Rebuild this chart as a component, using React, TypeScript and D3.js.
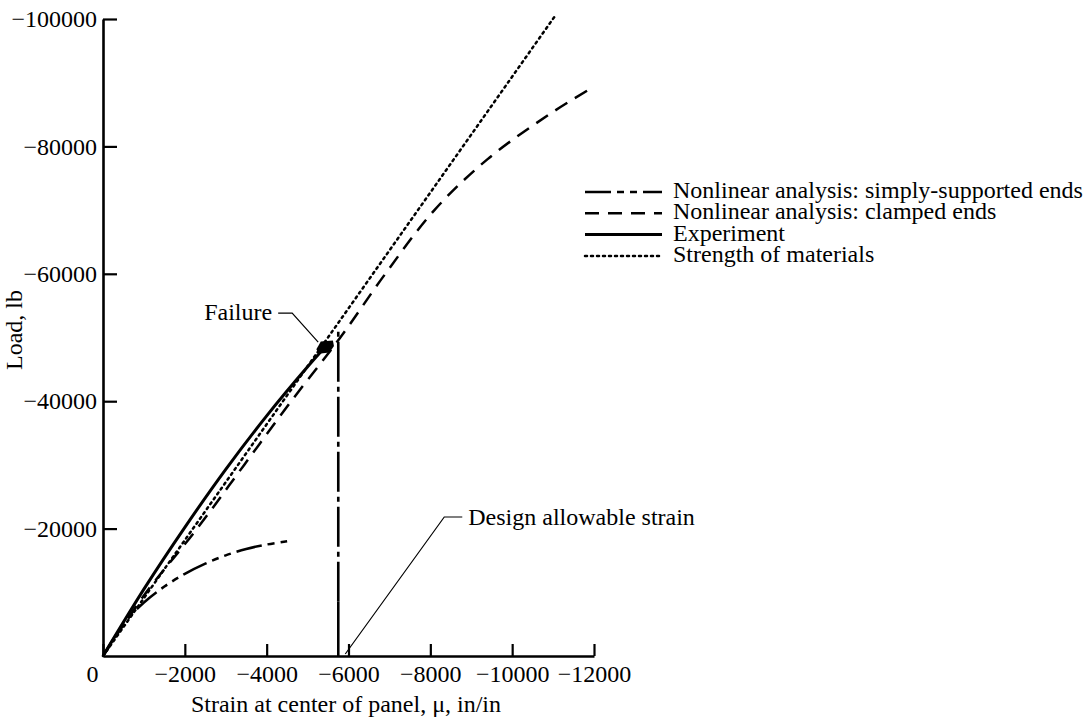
import React, { useEffect, useRef } from 'react'
import * as d3 from 'd3'

// axis ticks
const xTicks = [0, -2000, -4000, -6000, -8000, -10000, -12000]
const yTicks = [-20000, -40000, -60000, -80000, -100000]

// strain (micro in/in) and load (lb)
const ssStrain = [0, -500, -1000, -1500, -2000, -2500, -3000, -3500, -4000, -4500]
const ssLoad = [0, -5000, -8400, -10900, -12900, -14500, -15800, -16800, -17500, -18000]

const clStrain = [0, -1000, -2300, -3450, -4600, -5800, -6900, -8100, -9400, -10900, -11900]
const clLoad = [0, -9500, -20000, -30000, -40000, -50000, -60000, -70000, -78000, -85000, -89000]

const expStrain = [0, -1000, -2000, -3000, -4000, -5000, -5430]
const expLoad = [0, -10500, -20200, -29300, -37700, -45400, -48500]

const somStrain = [0, -11050]
const somLoad = [0, -100500]

const failure = { strain: -5430, load: -48500 }
const allowableStrain = -5750
const allowableTop = -51200
const allowableSolidTop = -8500

const legendLabels = [
  'Nonlinear analysis: simply-supported ends',
  'Nonlinear analysis: clamped ends',
  'Experiment',
  'Strength of materials',
]
const legendDash = ['26,6,7,6,7,6', '14,9', null, '2,4']

const FONT = "'Liberation Serif', 'DejaVu Serif', serif"
const FS = 24

const x = d3.scaleLinear().domain([0, -12000]).range([103, 594])
const y = d3.scaleLinear().domain([0, -100000]).range([656, 19])

const fmt = (d: number) => (d === 0 ? '0' : '\u2212' + Math.abs(d))

const Chart = () => {
  const ref = useRef<SVGSVGElement>(null)

  useEffect(() => {
    const svg = d3.select(ref.current)
    svg.selectAll('*').remove()

    const line = d3
      .line<[number, number]>()
      .x((d) => x(d[0]))
      .y((d) => y(d[1]))
      .curve(d3.curveCatmullRom)

    // y axis
    const ya = svg
      .append('g')
      .attr('transform', `translate(${x(0)},0)`)
      .call(d3.axisLeft(y).tickValues(yTicks).tickSizeInner(-14).tickSizeOuter(0).tickPadding(6).tickFormat(fmt as any))
    // x axis
    const xa = svg
      .append('g')
      .attr('transform', `translate(0,${y(0)})`)
      .call(d3.axisBottom(x).tickValues(xTicks).tickSizeInner(-12).tickSizeOuter(0).tickPadding(14).tickFormat(fmt as any))

    ;[ya, xa].forEach((a) => {
      a.attr('font-family', FONT).attr('font-size', FS)
      a.select('.domain').attr('stroke-width', 2.6)
      a.selectAll('.tick line').attr('stroke-width', 2.2)
      a.selectAll('.tick text').attr('fill', '#000')
    })
    xa.selectAll('.tick text').attr('dy', '0.5em').attr('dx', (d: any) => (d === 0 ? -11 : 0))

    // axis titles
    svg
      .append('text')
      .attr('x', 346)
      .attr('y', 712)
      .attr('text-anchor', 'middle')
      .attr('font-family', FONT)
      .attr('font-size', FS)
      .text('Strain at center of panel, \u03bc, in/in')
    svg
      .append('text')
      .attr('transform', 'translate(22,330) rotate(-90)')
      .attr('text-anchor', 'middle')
      .attr('font-family', FONT)
      .attr('font-size', FS)
      .text('Load, lb')

    // curves
    const curves = [
      { s: ssStrain, l: ssLoad, dash: legendDash[0], w: 2.5 },
      { s: clStrain, l: clLoad, dash: legendDash[1], w: 2.5 },
      { s: somStrain, l: somLoad, dash: legendDash[3], w: 2.5 },
      { s: expStrain, l: expLoad, dash: null, w: 3 },
    ]
    curves.forEach((c) => {
      svg
        .append('path')
        .attr('d', line(d3.zip(c.s, c.l) as [number, number][]))
        .attr('fill', 'none')
        .attr('stroke', '#000')
        .attr('stroke-width', c.w)
        .attr('stroke-dasharray', c.dash)
        .attr('stroke-linecap', c.dash === '2,4' ? 'round' : 'butt')
    })

    // design allowable strain line
    svg
      .append('line')
      .attr('x1', x(allowableStrain))
      .attr('x2', x(allowableStrain))
      .attr('y1', y(allowableSolidTop))
      .attr('y2', y(allowableTop))
      .attr('stroke', '#000')
      .attr('stroke-width', 2.6)
      .attr('stroke-dasharray', '40,5,5,5')
    svg
      .append('line')
      .attr('x1', x(allowableStrain))
      .attr('x2', x(allowableStrain))
      .attr('y1', y(0))
      .attr('y2', y(allowableSolidTop))
      .attr('stroke', '#000')
      .attr('stroke-width', 2.6)

    // failure marker + label
    const fx = x(failure.strain)
    const fy = y(failure.load)
    svg
      .append('path')
      .attr('transform', `translate(${fx},${fy}) scale(1.1)`)
      .attr('d', 'M-8,2L-4,-5L7,-6L8,-1L4,5L-6,6Z')
      .attr('fill', '#000')
    svg
      .append('path')
      .attr('d', `M${fx - 47},${fy - 34}H${fx - 33}L${fx - 7},${fy - 5}`)
      .attr('fill', 'none')
      .attr('stroke', '#000')
      .attr('stroke-width', 1.2)
    svg
      .append('text')
      .attr('x', fx - 53)
      .attr('y', fy - 27)
      .attr('text-anchor', 'end')
      .attr('font-family', FONT)
      .attr('font-size', FS)
      .text('Failure')

    // design allowable strain label
    const ax = x(allowableStrain)
    svg
      .append('path')
      .attr('d', `M${ax + 7},${y(0) - 2}L${ax + 106},${y(0) - 139}H${ax + 124}`)
      .attr('fill', 'none')
      .attr('stroke', '#000')
      .attr('stroke-width', 1.2)
    svg
      .append('text')
      .attr('x', ax + 130)
      .attr('y', y(0) - 131)
      .attr('font-family', FONT)
      .attr('font-size', FS)
      .text('Design allowable strain')

    // legend
    const leg = svg
      .selectAll('g.leg')
      .data(legendLabels)
      .join('g')
      .attr('class', 'leg')
      .attr('transform', (d, i) => `translate(585,${192 + i * 21.3})`)
    leg
      .append('line')
      .attr('x1', 0)
      .attr('x2', 77)
      .attr('stroke', '#000')
      .attr('stroke-width', (d, i) => (i === 2 ? 3 : 2.5))
      .attr('stroke-dasharray', (d, i) => legendDash[i])
      .attr('stroke-linecap', (d, i) => (i === 3 ? 'round' : 'butt'))
    leg
      .append('text')
      .attr('x', 88)
      .attr('y', 6)
      .attr('font-family', FONT)
      .attr('font-size', FS)
      .text((d) => d)
  }, [])

  return (
    <svg
      ref={ref}
      width={1088}
      height={723}
      style={{ position: 'absolute', left: 0, top: 0, background: '#fff' }}
    ></svg>
  )
}

export default function App() {
  return <Chart />
}
